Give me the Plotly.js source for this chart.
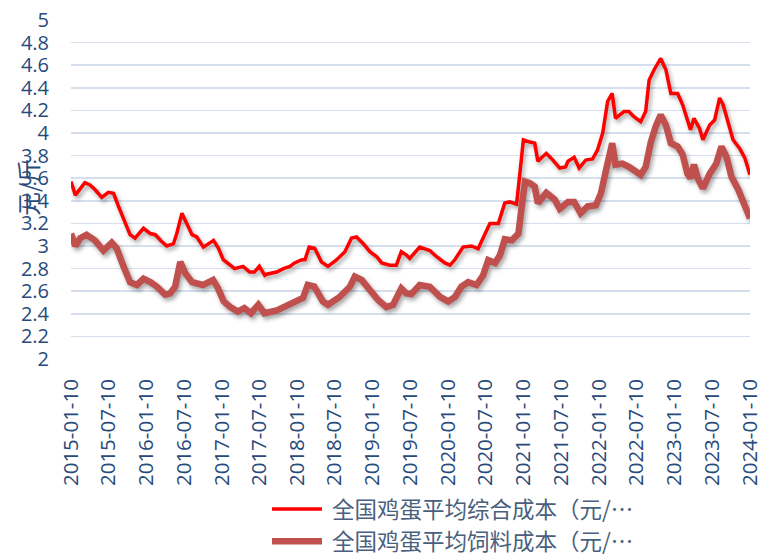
<!DOCTYPE html>
<html>
<head>
<meta charset="utf-8">
<script src="https://cdn.plot.ly/plotly-3.0.1.min.js"></script>
<style>
html,body{margin:0;padding:0;background:#fff;}
#chart{width:762px;height:555px;}
.scatterlayer .trace path.js-line{filter:drop-shadow(2px 3px 2px rgba(0,0,0,0.35));}
</style>
</head>
<body>
<div id="chart"></div>
<script>
// Series names
const seriesNames = ['全国鸡蛋平均综合成本（元/…', '全国鸡蛋平均饲料成本（元/…'];

// 综合成本 (元/斤)
const totalDates = [
'2015-01-10','2015-01-31','2015-03-18','2015-04-12','2015-05-06','2015-06-08','2015-07-10','2015-08-04','2015-08-28','2015-09-29',
'2015-10-23','2015-11-16','2015-12-27','2016-01-29','2016-02-22','2016-03-24','2016-04-18','2016-05-20','2016-06-05','2016-06-30',
'2016-07-24','2016-08-18','2016-09-10','2016-10-12','2016-11-30','2016-12-24','2017-01-16','2017-02-18','2017-03-12','2017-04-22',
'2017-05-24','2017-06-16','2017-07-10','2017-08-05','2017-08-13','2017-10-02','2017-11-03','2017-12-05','2017-12-27','2018-01-29',
'2018-02-16','2018-03-08','2018-04-04','2018-05-06','2018-06-07','2018-07-18','2018-08-28','2018-09-29','2018-10-23','2018-11-25',
'2018-12-27','2019-01-29','2019-02-22','2019-04-02','2019-05-04','2019-05-28','2019-06-22','2019-07-08','2019-08-25','2019-10-13',
'2019-11-15','2019-12-25','2020-01-19','2020-02-12','2020-03-22','2020-05-02','2020-06-03','2020-06-27','2020-07-30','2020-09-09',
'2020-10-10','2020-11-03','2020-12-06','2020-12-22','2021-01-08','2021-02-09','2021-03-04','2021-03-19','2021-04-29','2021-05-31',
'2021-07-03','2021-07-31','2021-08-12','2021-09-11','2021-10-05','2021-11-06','2021-12-09','2022-01-02','2022-01-27','2022-02-20',
'2022-03-14','2022-03-30','2022-05-10','2022-06-03','2022-06-27','2022-07-30','2022-08-23','2022-09-09','2022-10-03','2022-11-04',
'2022-11-29','2022-12-23','2023-01-25','2023-02-18','2023-03-13','2023-03-28','2023-04-14','2023-05-11','2023-05-27','2023-06-29',
'2023-07-23','2023-08-16','2023-09-02','2023-09-26','2023-10-20','2023-11-22','2023-12-16','2024-01-10'
];
const totalCost = [
3.57,3.45,3.56,3.54,3.50,3.43,3.475,3.466,3.35,3.20,
3.10,3.07,3.157,3.11,3.10,3.04,3.00,3.02,3.11,3.29,
3.19,3.10,3.08,2.99,3.05,2.98,2.88,2.83,2.80,2.82,
2.77,2.77,2.82,2.74,2.75,2.77,2.80,2.82,2.85,2.876,
2.88,2.99,2.98,2.86,2.82,2.876,2.95,3.07,3.08,3.02,
2.95,2.905,2.85,2.83,2.83,2.95,2.92,2.89,2.99,2.96,
2.905,2.85,2.83,2.88,2.99,3.00,2.975,3.07,3.20,3.20,
3.38,3.39,3.37,3.64,3.94,3.92,3.91,3.75,3.82,3.76,
3.69,3.70,3.75,3.785,3.69,3.76,3.77,3.85,4.00,4.28,
4.35,4.13,4.19,4.19,4.145,4.10,4.19,4.47,4.56,4.66,
4.56,4.35,4.35,4.25,4.115,4.03,4.13,4.04,3.94,4.07,
4.115,4.31,4.25,4.09,3.94,3.86,3.78,3.63
];

// 饲料成本 (元/斤)
const feedDates = [
'2015-01-10','2015-01-31','2015-02-24','2015-03-26','2015-05-06','2015-06-16','2015-07-26','2015-08-19','2015-09-21','2015-10-23',
'2015-11-25','2015-12-27','2016-01-29','2016-03-01','2016-04-10','2016-05-04','2016-05-28','2016-06-22','2016-07-16','2016-08-18',
'2016-10-10','2016-11-28','2016-12-22','2017-01-18','2017-02-19','2017-03-27','2017-04-28','2017-05-30','2017-07-05','2017-08-03',
'2017-10-02','2017-11-09','2017-12-27','2018-02-06','2018-03-01','2018-04-02','2018-05-13','2018-06-07','2018-08-03','2018-09-21',
'2018-10-15','2018-11-17','2018-12-27','2019-02-06','2019-03-16','2019-04-18','2019-05-28','2019-06-22','2019-07-16','2019-08-25',
'2019-10-13','2019-12-01','2020-01-10','2020-02-12','2020-03-14','2020-04-16','2020-05-26','2020-06-27','2020-07-22','2020-08-24',
'2020-09-17','2020-10-10','2020-11-13','2020-12-15','2020-12-31','2021-01-16','2021-02-09','2021-03-04','2021-03-19','2021-04-29',
'2021-06-09','2021-07-03','2021-08-12','2021-09-11','2021-10-12','2021-11-15','2021-12-25','2022-01-19','2022-02-12','2022-02-28',
'2022-03-14','2022-03-30','2022-05-02','2022-06-03','2022-07-04','2022-07-30','2022-08-23','2022-09-17','2022-10-11','2022-11-04',
'2022-11-29','2022-12-23','2023-01-25','2023-02-18','2023-03-13','2023-03-28','2023-04-14','2023-05-02','2023-05-27','2023-06-29',
'2023-07-31','2023-08-25','2023-09-18','2023-10-13','2023-11-14','2023-12-16','2024-01-10'
];
const feedCost = [
3.11,3.00,3.07,3.10,3.05,2.96,3.03,2.98,2.82,2.68,
2.655,2.71,2.68,2.64,2.57,2.58,2.64,2.86,2.76,2.68,
2.655,2.70,2.625,2.51,2.46,2.42,2.45,2.405,2.48,2.405,
2.43,2.46,2.51,2.54,2.655,2.64,2.51,2.48,2.55,2.64,
2.73,2.70,2.61,2.52,2.46,2.48,2.625,2.58,2.575,2.655,
2.64,2.55,2.51,2.55,2.64,2.68,2.655,2.74,2.876,2.85,
2.92,3.06,3.05,3.11,3.35,3.57,3.555,3.525,3.38,3.47,
3.41,3.33,3.39,3.39,3.29,3.35,3.36,3.47,3.67,3.83,
3.91,3.72,3.73,3.70,3.67,3.63,3.70,3.92,4.06,4.16,
4.07,3.91,3.88,3.81,3.64,3.60,3.72,3.60,3.51,3.64,
3.73,3.88,3.79,3.61,3.50,3.36,3.245
];

// Axis ticks
const xTickLabels = ['2015-01-10','2015-07-10','2016-01-10','2016-07-10','2017-01-10','2017-07-10','2018-01-10','2018-07-10',
'2019-01-10','2019-07-10','2020-01-10','2020-07-10','2021-01-10','2021-07-10','2022-01-10','2022-07-10','2023-01-10','2023-07-10','2024-01-10'];
const yTickValues = [2,2.2,2.4,2.6,2.8,3,3.2,3.4,3.6,3.8,4,4.2,4.4,4.6,4.8,5];
const yTickLabels = ['2','2.2','2.4','2.6','2.8','3','3.2','3.4','3.6','3.8','4','4.2','4.4','4.6','4.8','5'];
const yTitle = '元/斤';

const tickColor = '#274a7a';
const traces = [
  {x: totalDates, y: totalCost, name: seriesNames[0], type: 'scatter', mode: 'lines',
   line: {color: '#ff0000', width: 3.5}},
  {x: feedDates, y: feedCost, name: seriesNames[1], type: 'scatter', mode: 'lines',
   line: {color: '#c0504d', width: 6.5}}
];

const layout = {
  width: 762, height: 555,
  margin: {l: 71, r: 12, t: 20, b: 196, autoexpand: false},
  paper_bgcolor: '#ffffff', plot_bgcolor: '#ffffff',
  font: {family: '"Open Sans", "Noto Sans CJK SC", sans-serif', color: tickColor},
  showlegend: true,
  xaxis: {
    type: 'date', range: ['2015-01-10', '2024-01-10 04:00'],
    tickvals: xTickLabels, ticktext: xTickLabels, tickangle: -90,
    tickfont: {size: 20.5, color: tickColor, family: '"Open Sans", sans-serif'},
    showgrid: false, zeroline: false, showline: false, ticks: '',
    ticklabelstandoff: 15, automargin: false, ticklabeloverflow: 'allow'
  },
  yaxis: {
    range: [2, 5], tickvals: yTickValues, ticktext: yTickLabels,
    tickfont: {size: 20, color: tickColor, family: '"Open Sans", sans-serif'},
    showgrid: true, gridcolor: '#d5dfee', gridwidth: 1.6,
    zeroline: false, showline: false, ticks: '',
    ticklabelstandoff: 21, automargin: false
  },
  annotations: [{
    text: yTitle, textangle: -90, xref: 'paper', yref: 'paper',
    x: -0.063, y: 0.505, xanchor: 'center', yanchor: 'middle', showarrow: false,
    font: {size: 24, color: tickColor, family: '"Noto Sans CJK SC", sans-serif'}
  }],
  legend: {
    orientation: 'v', x: 0.296, y: -0.38, xanchor: 'left', yanchor: 'top',
    font: {size: 22.5, color: '#4a5f7e', family: '"Noto Sans CJK SC", sans-serif'},
    bgcolor: 'rgba(0,0,0,0)', tracegroupgap: 0, itemwidth: 50
  },
  hovermode: false
};

Plotly.newPlot('chart', traces, layout, {staticPlot: true, displayModeBar: false}).then(function () {
  // lengthen legend line samples to match the reference's 50px strokes
  document.querySelectorAll('.legend .legendlines path').forEach(function (p) {
    p.setAttribute('d', 'M0,0h50');
  });
});
</script>
</body>
</html>
